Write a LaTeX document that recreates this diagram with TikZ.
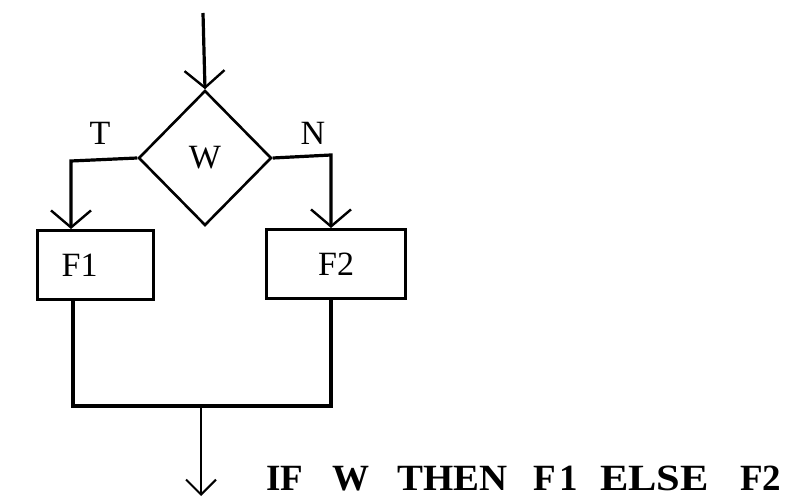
\documentclass[tikz,border=0pt]{standalone}
\usepackage{fontspec}
\setmainfont{Liberation Serif}
\usetikzlibrary{shapes.geometric,arrows.meta}
\begin{document}
\begin{tikzpicture}[x=1pt,y=-1pt,
  flow/.style={line width=3.2pt,line join=miter,-{Straight Barb[length=17pt,width=40pt,line width=2.4pt]}},
  plain/.style={line width=3.2pt,line join=miter},
  box/.style={draw,line width=3.2pt,rectangle,minimum width=116pt,minimum height=69pt,inner sep=0pt,font=\fontsize{34}{34}\selectfont},
  cond/.style={draw,line width=2.6pt,diamond,minimum width=133pt,minimum height=135pt,inner sep=0pt,font=\fontsize{34}{34}\selectfont},
  lbl/.style={font=\fontsize{34}{34}\selectfont,inner sep=0pt}]
\useasboundingbox (0,0) rectangle (785,497);
\coordinate (start) at (203,13);
\node[cond] (w) at (205,158) {W};
\node[box,anchor=north west,align=left,text width=68pt,inner xsep=24pt] (f1) at (36,229) {F1};
\node[box,anchor=north west,minimum width=139pt] (f2) at (265,228) {F2};
\coordinate (tl) at (71,161);
\coordinate (nr) at (331,155);
\coordinate (b1) at (73,406);
\coordinate (b2) at (331,406);
\coordinate (j) at (201,406);
\coordinate (out) at (201,496);
\node[lbl] (tlab) at (100,133) {T};
\node[lbl] (nlab) at (313,133) {N};
\draw[flow] (start) -- (w.north);
\draw[flow] (w.west) -- (tl) -- (f1.north -| tl);
\draw[flow] (w.east) -- (nr) -- (f2.north -| nr);
\draw[plain] (f1.south -| b1) -- (b1) -- (b2) -- (f2.south -| b2);
\draw[line width=2.6pt,-{Straight Barb[length=15pt,width=30pt,line width=2pt]}] (j) -- (out);
\node[anchor=base west,inner sep=0pt,font=\bfseries\fontsize{37}{37}\selectfont] (txt) at (266,490)
  {\makebox[66pt][l]{IF}\makebox[65pt][l]{W}\makebox[136pt][l]{\scalebox{1.05}[1]{THEN}}\makebox[67pt][l]{F\hspace{4pt}1}\makebox[140pt][l]{\scalebox{1.15}[1]{ELSE}}F2};
\end{tikzpicture}
\end{document}
